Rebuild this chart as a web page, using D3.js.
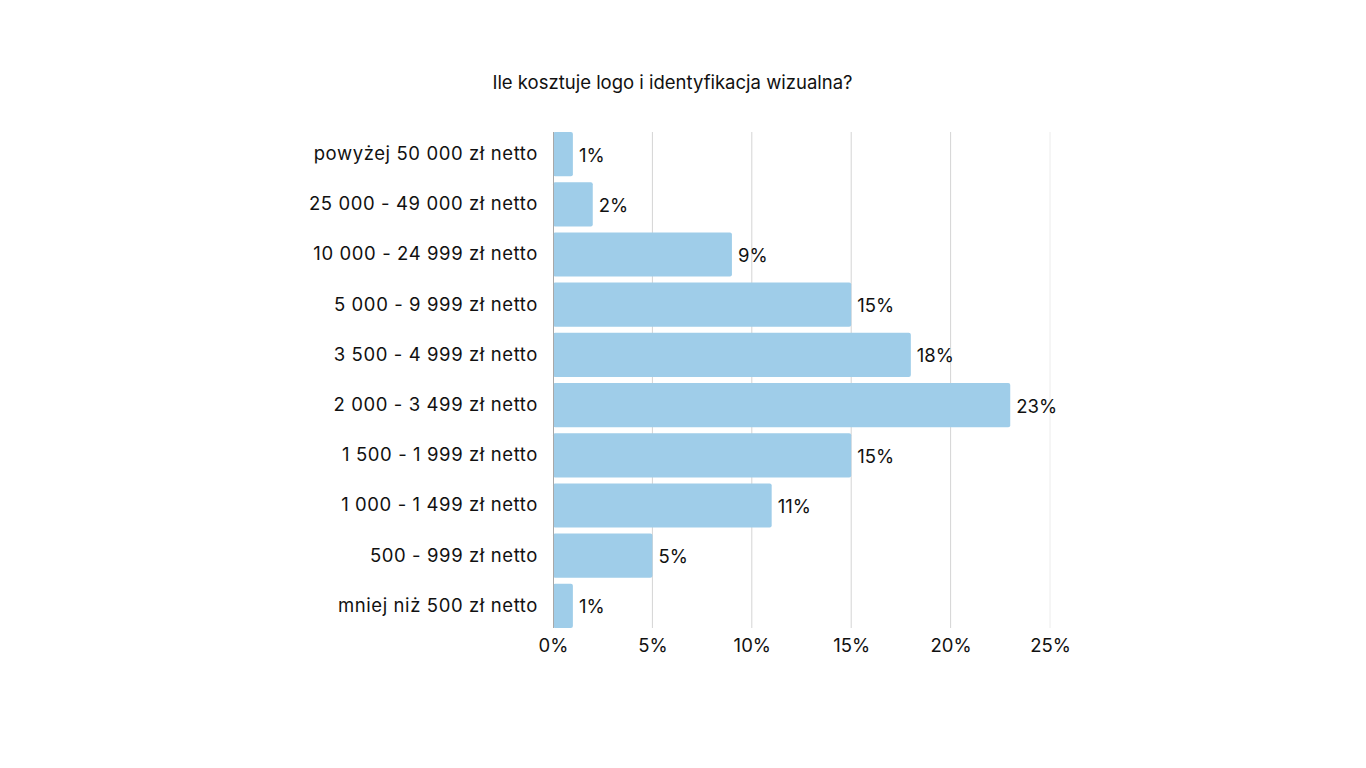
<!DOCTYPE html>
<html><head><meta charset="utf-8">
<script src="https://cdn.jsdelivr.net/npm/d3@7"></script>
<style>
html,body{margin:0;padding:0;background:#fff;}
svg{display:block;font-family:"Inter","Lato",sans-serif;}
</style></head>
<body>
<svg id="chart" width="1366" height="768"></svg>
<script>
const title = "Ile kosztuje logo i identyfikacja wizualna?";
const categories = [
  "powyżej 50 000 zł netto",
  "25 000 - 49 000 zł netto",
  "10 000 - 24 999 zł netto",
  "5 000 - 9 999 zł netto",
  "3 500 - 4 999 zł netto",
  "2 000 - 3 499 zł netto",
  "1 500 - 1 999 zł netto",
  "1 000 - 1 499 zł netto",
  "500 - 999 zł netto",
  "mniej niż 500 zł netto"
];
const values = [1, 2, 9, 15, 18, 23, 15, 11, 5, 1];
const tickValues = [0, 5, 10, 15, 20, 25];

const svg = d3.select("#chart");
const plotLeft = 553, plotRight = 1050, plotTop = 132, plotBottom = 628;
const fs = 18.5;

const x = d3.scaleLinear().domain([0, 25]).range([plotLeft, plotRight]);
const y = d3.scaleBand().domain(categories).range([plotTop, plotBottom]).paddingInner(0.12).paddingOuter(0);

svg.append("text")
  .attr("x", 672.5).attr("y", 89)
  .attr("text-anchor", "middle")
  .attr("font-size", fs).attr("fill", "#111")
  .text(title);

// gridlines
svg.append("g").selectAll("line").data(tickValues.filter(d => d > 0)).join("line")
  .attr("x1", d => x(d)).attr("x2", d => x(d))
  .attr("y1", plotTop).attr("y2", plotBottom)
  .attr("stroke", d => d === 25 ? "#ececec" : "#d4d4d4").attr("stroke-width", 1);

// bars
svg.append("g").selectAll("rect").data(values).join("rect")
  .attr("x", x(0))
  .attr("y", (d, i) => y(categories[i]))
  .attr("width", d => x(d) - x(0))
  .attr("height", y.bandwidth())
  .attr("rx", 2)
  .attr("fill", "#9fcde9");

// axis line
svg.append("line").attr("x1", x(0)+0.5).attr("x2", x(0)+0.5).attr("y1", plotTop).attr("y2", plotBottom)
  .attr("stroke", "#a8a8a8").attr("stroke-width", 1);

// value labels
svg.append("g").selectAll("text").data(values).join("text")
  .attr("x", d => x(d) + 6)
  .attr("y", (d, i) => y(categories[i]) + y.bandwidth() / 2 + 1)
  .attr("dy", "0.35em")
  .attr("font-size", fs).attr("fill", "#111")
  .text(d => d + "%");

// category labels
const yAxis = d3.axisLeft(y).tickSize(0).tickPadding(15);
const gy = svg.append("g").attr("transform", `translate(${plotLeft},0)`).call(yAxis);
gy.select(".domain").remove();
gy.selectAll("text").attr("font-size", fs).attr("fill", "#111").attr("font-family", "Inter, Lato, sans-serif")
  .attr("letter-spacing", 0.6);

// x axis
const xAxis = d3.axisBottom(x).tickValues(tickValues).tickSize(0).tickPadding(11).tickFormat(d => d + "%");
const gx = svg.append("g").attr("transform", `translate(0,${plotBottom})`).call(xAxis);
gx.select(".domain").remove();
gx.selectAll("text").attr("font-size", fs).attr("fill", "#111").attr("font-family", "Inter, Lato, sans-serif");
</script>
</body></html>
